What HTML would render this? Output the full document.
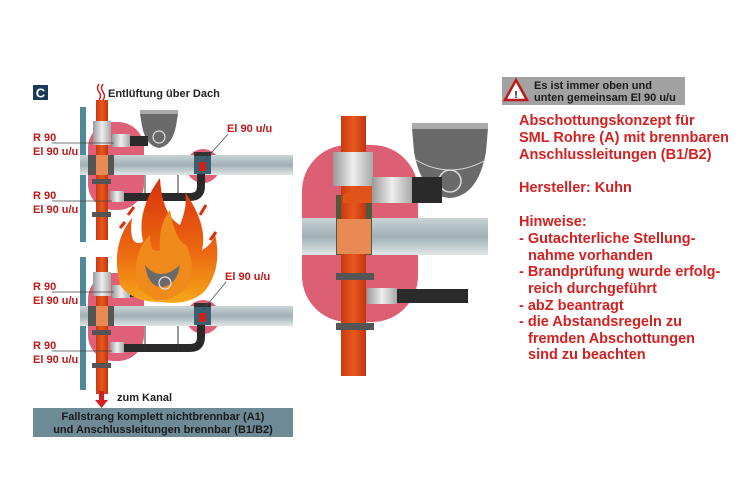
<!DOCTYPE html>
<html><head><meta charset="utf-8"><style>
html,body{margin:0;padding:0;background:#fff;}
svg{display:block;font-family:"Liberation Sans",Arial,sans-serif;font-weight:bold;}
</style></head><body>
<svg width="750" height="500" viewBox="0 0 750 500" xmlns="http://www.w3.org/2000/svg">
<defs>
<linearGradient id="slab" x1="0" y1="0" x2="0" y2="1">
<stop offset="0" stop-color="#c9d3d6"/><stop offset="0.5" stop-color="#9fb0b5"/><stop offset="1" stop-color="#e0e6e8"/></linearGradient>
<linearGradient id="orng" x1="0" y1="0" x2="1" y2="0">
<stop offset="0" stop-color="#c83a10"/><stop offset="0.5" stop-color="#e8581c"/><stop offset="1" stop-color="#c03510"/></linearGradient>
<linearGradient id="coup" x1="0" y1="0" x2="1" y2="0">
<stop offset="0" stop-color="#9a9a9a"/><stop offset="0.5" stop-color="#eeeeee"/><stop offset="1" stop-color="#a8a8a8"/></linearGradient>
<linearGradient id="fire" x1="0" y1="0" x2="0" y2="1">
<stop offset="0" stop-color="#d8300c"/><stop offset="0.6" stop-color="#ec6a12"/><stop offset="1" stop-color="#f6a818"/></linearGradient>
<g id="unit">
  <rect x="88" y="122" width="56" height="88" rx="26" fill="#e0607a"/>
  <circle cx="203" cy="166" r="17" fill="#e0607a"/>
  <rect x="80" y="155" width="213" height="20" fill="url(#slab)"/>
  <rect x="88" y="155" width="26" height="20" fill="#555"/>
  <path d="M140 114 h38 l-2 12 q-4 20 -17 22 q-13 -2 -17 -22z" fill="#6a6a6a"/>
  <rect x="140" y="110" width="38" height="4" fill="#aaa"/>
  <circle cx="159" cy="137" r="6" fill="none" stroke="#ddd" stroke-width="1.2"/>
  <rect x="112" y="136" width="36" height="10" fill="#2a2a2a"/>
  <rect x="110" y="193" width="50" height="8" fill="#2a2a2a"/>
  <path d="M160 197 L190 197 Q201 197 201 186 L201 172" fill="none" stroke="#2a2a2a" stroke-width="8"/>
  <line x1="145" y1="175" x2="145" y2="200" stroke="#333" stroke-width="1"/>
  <line x1="178" y1="175" x2="178" y2="200" stroke="#333" stroke-width="1"/>
  <rect x="112" y="134" width="18" height="13" fill="url(#coup)"/>
  <rect x="110" y="191" width="14" height="11" fill="url(#coup)"/>
  <rect x="194" y="156" width="17" height="18" fill="#3a6070"/>
  <rect x="199" y="162" width="7" height="9" fill="#d02020"/>
  <rect x="194" y="152" width="17" height="4" fill="#333"/>
  <rect x="96" y="100" width="12" height="140" fill="url(#orng)"/>
  <rect x="93" y="121" width="18" height="24" fill="url(#coup)"/>
  <rect x="96" y="155" width="12" height="20" fill="#e98a55"/>
  <rect x="92" y="179" width="19" height="5" fill="#555"/>
  <rect x="92" y="212" width="19" height="5" fill="#555"/>
</g>
</defs>

<rect x="33" y="85" width="15" height="15" fill="#1a3a5c"/>
<text x="40.5" y="97.5" font-size="13" fill="#fff" text-anchor="middle">C</text>
<path d="M99 84 q-3 4 0 8 q3 4 0 8 M103 84 q-3 4 0 8 q3 4 0 8" stroke="#d02020" stroke-width="1.5" fill="none"/>
<text x="108" y="97" font-size="11" fill="#222">Entlüftung über Dach</text>

<rect x="80" y="107" width="6" height="135" fill="#4f8a98"/>
<rect x="80" y="257" width="6" height="133" fill="#4f8a98"/>

<use href="#unit"/>
<use href="#unit" transform="translate(0,151)"/>
<rect x="96" y="240" width="12" height="17" fill="#fff"/>
<rect x="96" y="390" width="12" height="4" fill="url(#orng)"/>

<g>
<path d="M120 285 Q110 245 132 218 Q128 248 143 242 Q136 210 160 178 Q162 215 180 225 Q188 205 185 192 Q208 225 202 250 Q216 242 214 230 Q224 268 204 292 Q188 306 160 302 Q132 302 120 285Z" fill="url(#fire)"/>
<path d="M138 288 Q130 255 150 235 Q150 255 160 250 Q158 225 170 210 Q175 240 186 245 Q197 265 187 287 Q172 302 155 300Z" fill="#f08a1a"/>
<path d="M145 265 q15 18 35 0 q-3 20 -18 22 q-14 0 -17 -22z" fill="#6a6a6a"/>
<circle cx="165" cy="283" r="6" fill="none" stroke="#ddd" stroke-width="1.3"/>
<path d="M128 215 l6 -8 M200 215 l6 -10 M210 240 l6 -8 M120 228 l5 -6" stroke="#d8300c" stroke-width="3"/>
</g>

<g font-size="11" fill="#c01818">
<text x="33" y="141">R 90</text><text x="33" y="155">El 90 u/u</text>
<text x="33" y="199">R 90</text><text x="33" y="213">El 90 u/u</text>
<text x="33" y="290">R 90</text><text x="33" y="304">El 90 u/u</text>
<text x="33" y="349">R 90</text><text x="33" y="363">El 90 u/u</text>
<text x="227" y="132">El 90 u/u</text>
<text x="225" y="280">El 90 u/u</text>
</g>
<g stroke="#444" stroke-width="0.7">
<line x1="52" y1="143" x2="114" y2="143"/>
<line x1="52" y1="201" x2="112" y2="201"/>
<line x1="52" y1="292" x2="114" y2="292"/>
<line x1="52" y1="351" x2="112" y2="351"/>
<line x1="228" y1="134" x2="205" y2="160"/>
<line x1="226" y1="282" x2="203" y2="310"/>
</g>

<rect x="99" y="391" width="5" height="10" fill="#d02020"/>
<path d="M95 400 h13 l-6.5 8z" fill="#d02020"/>
<text x="117" y="401" font-size="11" fill="#222">zum Kanal</text>

<rect x="33" y="408" width="260" height="29" fill="#6e8a96"/>
<text x="163" y="420" font-size="11" fill="#1a1a1a" text-anchor="middle">Fallstrang komplett nichtbrennbar (A1)</text>
<text x="163" y="433" font-size="11" fill="#1a1a1a" text-anchor="middle">und Anschlussleitungen brennbar (B1/B2)</text>

<rect x="302" y="145" width="116" height="177" rx="46" fill="#dd5f73"/>
<rect x="302" y="218" width="186" height="37" fill="url(#slab)"/>
<rect x="336" y="195" width="36" height="60" fill="#4a5a3a"/>
<path d="M412 128 h76 l-2 24 q-8 44 -36 46 q-28 -2 -36 -46z" fill="#6a6a6a"/>
<rect x="412" y="123" width="76" height="6" fill="#aaa"/>
<path d="M416 160 q34 20 70 0" stroke="#ddd" stroke-width="1" fill="none"/>
<circle cx="450" cy="181" r="11" fill="none" stroke="#ddd" stroke-width="1.5"/>
<rect x="410" y="177" width="32" height="26" fill="#2a2a2a"/>
<rect x="341" y="116" width="25" height="260" fill="url(#orng)"/>
<path d="M343 195 q14 -6 30 -15 v23 h-30z" fill="#e0541a"/>
<rect x="333" y="152" width="40" height="34" fill="url(#coup)"/>
<rect x="372" y="177" width="40" height="26" fill="url(#coup)"/>
<rect x="337" y="219" width="34" height="35" fill="#e98a55"/>
<rect x="336" y="273" width="38" height="7" fill="#555"/>
<rect x="336" y="323" width="38" height="7" fill="#555"/>
<rect x="393" y="289" width="75" height="14" fill="#2a2a2a"/>
<rect x="367" y="288" width="30" height="16" fill="url(#coup)"/>

<rect x="502" y="77" width="183" height="28" fill="#a2a2a2"/>
<path d="M516 80 l11 20 h-22z" fill="#fff" stroke="#c01818" stroke-width="2.5"/>
<text x="516" y="98" font-size="10" fill="#000" text-anchor="middle">!</text>
<text x="534" y="89" font-size="11" fill="#1a1a1a">Es ist immer oben und</text>
<text x="534" y="101" font-size="11" fill="#1a1a1a">unten gemeinsam El 90 u/u</text>

<g font-size="14.5" fill="#d42020">
<text x="519" y="125">Abschottungskonzept für</text>
<text x="519" y="142">SML Rohre (A) mit brennbaren</text>
<text x="519" y="159">Anschlussleitungen (B1/B2)</text>
<text x="519" y="192">Hersteller: Kuhn</text>
<text x="519" y="226">Hinweise:</text>
<text x="519" y="243">- Gutachterliche Stellung-</text>
<text x="528" y="260">nahme vorhanden</text>
<text x="519" y="276">- Brandprüfung wurde erfolg-</text>
<text x="528" y="293">reich durchgeführt</text>
<text x="519" y="310">- abZ beantragt</text>
<text x="519" y="326">- die Abstandsregeln zu</text>
<text x="528" y="343">fremden Abschottungen</text>
<text x="528" y="359">sind zu beachten</text>
</g>
</svg>
</body></html>
